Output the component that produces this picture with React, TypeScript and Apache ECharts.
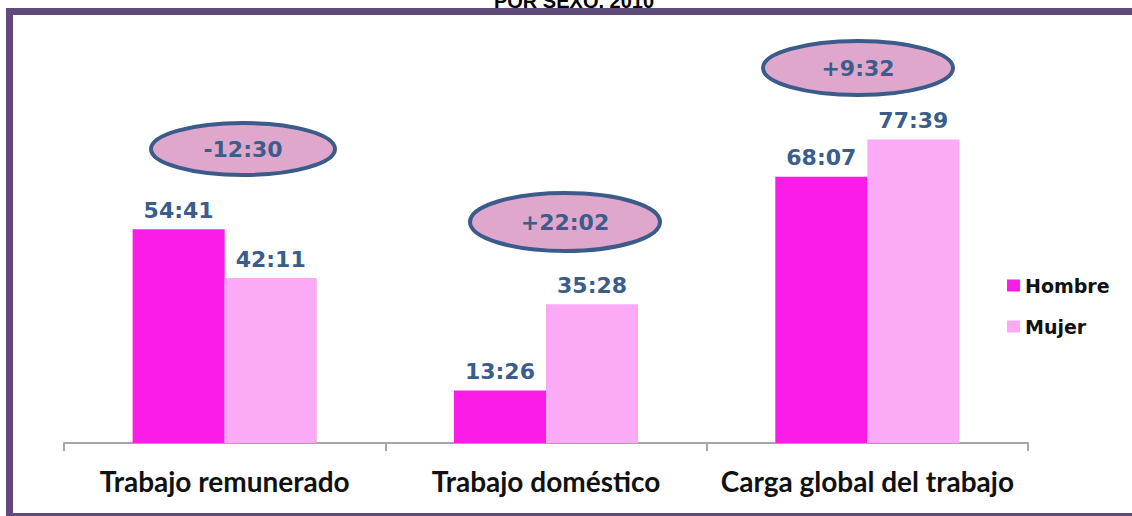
import React, { useEffect, useRef } from "react";
import * as echarts from "echarts";

const categories = ["Trabajo remunerado", "Trabajo doméstico", "Carga global del trabajo"];
const seriesNames = ["Hombre", "Mujer"];
const hombreTimes = ["54:41", "13:26", "68:07"];
const mujerTimes = ["42:11", "35:28", "77:39"];
const diffLabels = ["-12:30", "+22:02", "+9:32"];
const titleText = "POR SEXO, 2010";

const toHours = (s: string) => {
  const [h, m] = s.split(":").map(Number);
  return h + m / 60;
};
const toHHMM = (v: number) => {
  const total = Math.round(v * 60);
  const h = Math.floor(total / 60);
  const m = total % 60;
  return `${h}:${m < 10 ? "0" + m : m}`;
};

const hombreValues = hombreTimes.map(toHours);
const mujerValues = mujerTimes.map(toHours);

const ellipsePos = [
  { cx: 243, cy: 149, rx: 92, ry: 26 },
  { cx: 565, cy: 222, rx: 95, ry: 29 },
  { cx: 858, cy: 68, rx: 95, ry: 27 },
];

const labelColor = "#3a5d8c";

export default function App() {
  const ref = useRef<HTMLDivElement>(null);
  useEffect(() => {
    if (!ref.current) return;
    const chart = echarts.init(ref.current, undefined, { renderer: "svg" });
    const ellipses: any[] = [];
    diffLabels.forEach((t, i) => {
      const p = ellipsePos[i];
      ellipses.push({
        type: "ellipse",
        shape: { cx: p.cx, cy: p.cy, rx: p.rx, ry: p.ry },
        style: { fill: "#e0a7cd", stroke: "#3b5b8a", lineWidth: 4 },
        z: 10,
      });
      ellipses.push({
        type: "text",
        x: p.cx,
        y: p.cy,
        style: {
          text: t,
          fill: labelColor,
          font: "bold 22px 'DejaVu Sans'",
          align: "center",
          verticalAlign: "middle",
        },
        z: 11,
      });
    });
    const labelStyle = {
      show: true,
      position: "top" as const,
      distance: 8,
      color: labelColor,
      fontFamily: "DejaVu Sans",
      fontWeight: "bold" as const,
      fontSize: 22,
      formatter: (p: any) => toHHMM(p.value),
    };
    chart.setOption({
      animation: false,
      backgroundColor: "#ffffff",
      grid: { left: 64, right: 104, top: 52, bottom: 73 },
      legend: {
        orient: "vertical",
        left: 1002,
        top: 271,
        itemWidth: 13,
        itemHeight: 12,
        itemGap: 22,
        icon: "rect",
        textStyle: {
          fontFamily: "DejaVu Sans",
          fontWeight: "bold",
          fontSize: 19,
          color: "#111111",
        },
        data: seriesNames,
      },
      xAxis: {
        type: "category",
        data: categories,
        axisLine: { lineStyle: { color: "#a6a6a6", width: 2 } },
        axisTick: { show: true, length: 8, lineStyle: { color: "#a6a6a6", width: 2 } },
        axisLabel: {
          interval: 0,
          hideOverlap: false,
          margin: 24,
          color: "#111111",
          fontFamily: "Lato",
          fontWeight: "bold",
          fontSize: 28,
        },
      },
      yAxis: {
        type: "value",
        min: 0,
        max: 100,
        show: false,
        splitLine: { show: false },
      },
      series: [
        {
          name: seriesNames[0],
          type: "bar",
          data: hombreValues,
          barGap: "0%",
          barCategoryGap: "42.7%",
          itemStyle: { color: "#f91de7" },
          label: labelStyle,
        },
        {
          name: seriesNames[1],
          type: "bar",
          data: mujerValues,
          itemStyle: { color: "#fcaaf5" },
          label: labelStyle,
        },
      ],
      graphic: [
        {
          type: "text",
          x: 574,
          y: 11,
          style: {
            text: titleText,
            fill: "#000000",
            font: "bold 20px 'Liberation Sans'",
            align: "center",
            verticalAlign: "bottom",
          },
          z: 1,
        },
        {
          type: "rect",
          shape: { x: 9.5, y: 11.5, width: 1200, height: 505 },
          style: { fill: "none", stroke: "#5f4a7b", lineWidth: 7 },
          z: 2,
        },
        ...ellipses,
      ],
    });
    return () => chart.dispose();
  }, []);
  return (
    <div
      ref={ref}
      style={{ position: "fixed", left: 0, top: 0, width: 1132, height: 516, background: "#fff" }}
    />
  );
}
